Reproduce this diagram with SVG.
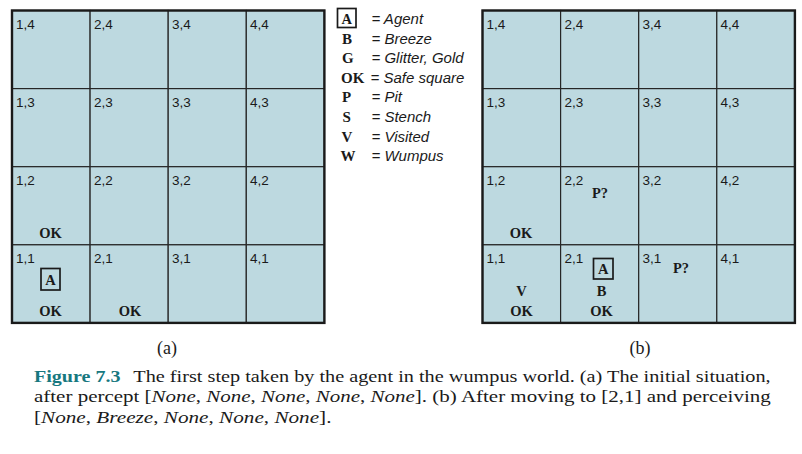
<svg xmlns="http://www.w3.org/2000/svg" width="802" height="454" viewBox="0 0 802 454">
<style>
.cell{fill:#bdd9e0;stroke:#262626;stroke-width:1.2}
.frame{fill:none;stroke:#1a1a1a;stroke-width:2.4}
.lbl{font-family:"Liberation Sans",Arial,sans-serif;font-size:13.5px;fill:#1a1a1a}
.sym{font-family:"Liberation Serif","Times New Roman",serif;font-size:14.5px;font-weight:bold;fill:#1a1a1a;text-anchor:middle}
.lsym{font-family:"Liberation Serif","Times New Roman",serif;font-size:15px;font-weight:bold;fill:#1a1a1a}
.leg{font-family:"Liberation Sans",Arial,sans-serif;font-size:15px;font-style:italic;fill:#1a1a1a}
.abox{fill:none;stroke:#1a1a1a;stroke-width:1.7}
.sub{font-family:"Liberation Serif","Times New Roman",serif;font-size:18px;fill:#1a1a1a;text-anchor:middle}
.cap{font-family:"Liberation Serif","Times New Roman",serif;font-size:17px;fill:#1a1a1a}
.fig{font-family:"Liberation Serif","Times New Roman",serif;font-size:17px;font-weight:bold;fill:#17787f}
.it{font-style:italic}
</style>

<g id="grid-a">
  <g id="a-cells">
    <rect class="cell" x="12" y="10.5" width="78.1" height="78.1"/>
    <rect class="cell" x="90.1" y="10.5" width="78.1" height="78.1"/>
    <rect class="cell" x="168.2" y="10.5" width="78.1" height="78.1"/>
    <rect class="cell" x="246.3" y="10.5" width="78.1" height="78.1"/>
    <rect class="cell" x="12" y="88.6" width="78.1" height="78.1"/>
    <rect class="cell" x="90.1" y="88.6" width="78.1" height="78.1"/>
    <rect class="cell" x="168.2" y="88.6" width="78.1" height="78.1"/>
    <rect class="cell" x="246.3" y="88.6" width="78.1" height="78.1"/>
    <rect class="cell" x="12" y="166.7" width="78.1" height="78.1"/>
    <rect class="cell" x="90.1" y="166.7" width="78.1" height="78.1"/>
    <rect class="cell" x="168.2" y="166.7" width="78.1" height="78.1"/>
    <rect class="cell" x="246.3" y="166.7" width="78.1" height="78.1"/>
    <rect class="cell" x="12" y="244.8" width="78.1" height="78.1"/>
    <rect class="cell" x="90.1" y="244.8" width="78.1" height="78.1"/>
    <rect class="cell" x="168.2" y="244.8" width="78.1" height="78.1"/>
    <rect class="cell" x="246.3" y="244.8" width="78.1" height="78.1"/>
    <rect class="frame" x="12" y="10.5" width="312.4" height="312.4"/>
  </g>
  <g id="a-labels">
    <text class="lbl" x="16" y="28.5">1,4</text>
    <text class="lbl" x="94" y="28.5">2,4</text>
    <text class="lbl" x="172" y="28.5">3,4</text>
    <text class="lbl" x="250" y="28.5">4,4</text>
    <text class="lbl" x="16" y="106.6">1,3</text>
    <text class="lbl" x="94" y="106.6">2,3</text>
    <text class="lbl" x="172" y="106.6">3,3</text>
    <text class="lbl" x="250" y="106.6">4,3</text>
    <text class="lbl" x="16" y="184.7">1,2</text>
    <text class="lbl" x="94" y="184.7">2,2</text>
    <text class="lbl" x="172" y="184.7">3,2</text>
    <text class="lbl" x="250" y="184.7">4,2</text>
    <text class="lbl" x="16" y="262.8">1,1</text>
    <text class="lbl" x="94" y="262.8">2,1</text>
    <text class="lbl" x="172" y="262.8">3,1</text>
    <text class="lbl" x="250" y="262.8">4,1</text>
  </g>
  <g id="a-contents">
    <text class="sym" x="50.5" y="237.5">OK</text>
    <rect class="abox" x="41" y="268.5" width="19" height="21.5"/>
    <text class="sym" x="50.5" y="284.5">A</text>
    <text class="sym" x="50.5" y="315.5">OK</text>
    <text class="sym" x="130" y="315.5">OK</text>
  </g>
  <text class="sub" x="167" y="354">(a)</text>
</g>

<g id="legend">
  <rect class="abox" x="337.5" y="8.5" width="18.5" height="19"/>
  <text class="sym" x="346.7" y="23.5">A</text>
  <text class="leg" x="371.5" y="24">= Agent</text>
  <text class="lsym" x="342" y="43.6">B</text>
  <text class="leg" x="371.5" y="43.6">= Breeze</text>
  <text class="lsym" x="342" y="63.2">G</text>
  <text class="leg" x="371.5" y="63.2">= Glitter, Gold</text>
  <text class="lsym" x="341" y="82.8">OK</text>
  <text class="leg" x="370.5" y="82.8">= Safe square</text>
  <text class="lsym" x="342" y="102.4">P</text>
  <text class="leg" x="371.5" y="102.4">= Pit</text>
  <text class="lsym" x="342.5" y="122">S</text>
  <text class="leg" x="371.5" y="122">= Stench</text>
  <text class="lsym" x="341.5" y="141.6">V</text>
  <text class="leg" x="371.5" y="141.6">= Visited</text>
  <text class="lsym" x="340.5" y="161.2">W</text>
  <text class="leg" x="371.5" y="161.2">= Wumpus</text>
</g>

<g id="grid-b">
  <g id="b-cells">
    <rect class="cell" x="482.5" y="10.5" width="78.1" height="78.1"/>
    <rect class="cell" x="560.6" y="10.5" width="78.1" height="78.1"/>
    <rect class="cell" x="638.7" y="10.5" width="78.1" height="78.1"/>
    <rect class="cell" x="716.8" y="10.5" width="78.1" height="78.1"/>
    <rect class="cell" x="482.5" y="88.6" width="78.1" height="78.1"/>
    <rect class="cell" x="560.6" y="88.6" width="78.1" height="78.1"/>
    <rect class="cell" x="638.7" y="88.6" width="78.1" height="78.1"/>
    <rect class="cell" x="716.8" y="88.6" width="78.1" height="78.1"/>
    <rect class="cell" x="482.5" y="166.7" width="78.1" height="78.1"/>
    <rect class="cell" x="560.6" y="166.7" width="78.1" height="78.1"/>
    <rect class="cell" x="638.7" y="166.7" width="78.1" height="78.1"/>
    <rect class="cell" x="716.8" y="166.7" width="78.1" height="78.1"/>
    <rect class="cell" x="482.5" y="244.8" width="78.1" height="78.1"/>
    <rect class="cell" x="560.6" y="244.8" width="78.1" height="78.1"/>
    <rect class="cell" x="638.7" y="244.8" width="78.1" height="78.1"/>
    <rect class="cell" x="716.8" y="244.8" width="78.1" height="78.1"/>
    <rect class="frame" x="482.5" y="10.5" width="312.4" height="312.4"/>
  </g>
  <g id="b-labels">
    <text class="lbl" x="486.5" y="28.5">1,4</text>
    <text class="lbl" x="564.5" y="28.5">2,4</text>
    <text class="lbl" x="642.5" y="28.5">3,4</text>
    <text class="lbl" x="720.5" y="28.5">4,4</text>
    <text class="lbl" x="486.5" y="106.6">1,3</text>
    <text class="lbl" x="564.5" y="106.6">2,3</text>
    <text class="lbl" x="642.5" y="106.6">3,3</text>
    <text class="lbl" x="720.5" y="106.6">4,3</text>
    <text class="lbl" x="486.5" y="184.7">1,2</text>
    <text class="lbl" x="564.5" y="184.7">2,2</text>
    <text class="lbl" x="642.5" y="184.7">3,2</text>
    <text class="lbl" x="720.5" y="184.7">4,2</text>
    <text class="lbl" x="486.5" y="262.8">1,1</text>
    <text class="lbl" x="564.5" y="262.8">2,1</text>
    <text class="lbl" x="642.5" y="262.8">3,1</text>
    <text class="lbl" x="720.5" y="262.8">4,1</text>
  </g>
  <g id="b-contents">
    <text class="sym" x="521" y="237.5">OK</text>
    <text class="sym" x="600" y="198">P?</text>
    <text class="sym" x="521.5" y="295.5">V</text>
    <text class="sym" x="521.5" y="315.5">OK</text>
    <rect class="abox" x="593.5" y="258.5" width="19.5" height="20.5"/>
    <text class="sym" x="603.2" y="274">A</text>
    <text class="sym" x="601.5" y="295.5">B</text>
    <text class="sym" x="601.5" y="315.5">OK</text>
    <text class="sym" x="681" y="272.5">P?</text>
  </g>
  <text class="sub" x="640" y="354">(b)</text>
</g>

<g id="caption">
  <text class="fig" x="34" y="381.5" textLength="86.5" lengthAdjust="spacingAndGlyphs">Figure 7.3</text>
  <text class="cap" x="133.3" y="381.5" textLength="637.4" lengthAdjust="spacingAndGlyphs">The first step taken by the agent in the wumpus world. (a) The initial situation,</text>
  <text class="cap" x="34" y="402.3" textLength="736.7" lengthAdjust="spacingAndGlyphs">after percept [<tspan class="it">None</tspan>, <tspan class="it">None</tspan>, <tspan class="it">None</tspan>, <tspan class="it">None</tspan>, <tspan class="it">None</tspan>].  (b) After moving to [2,1] and perceiving</text>
  <text class="cap" x="34" y="423.3" textLength="297.5" lengthAdjust="spacingAndGlyphs">[<tspan class="it">None</tspan>, <tspan class="it">Breeze</tspan>, <tspan class="it">None</tspan>, <tspan class="it">None</tspan>, <tspan class="it">None</tspan>].</text>
</g>
</svg>
